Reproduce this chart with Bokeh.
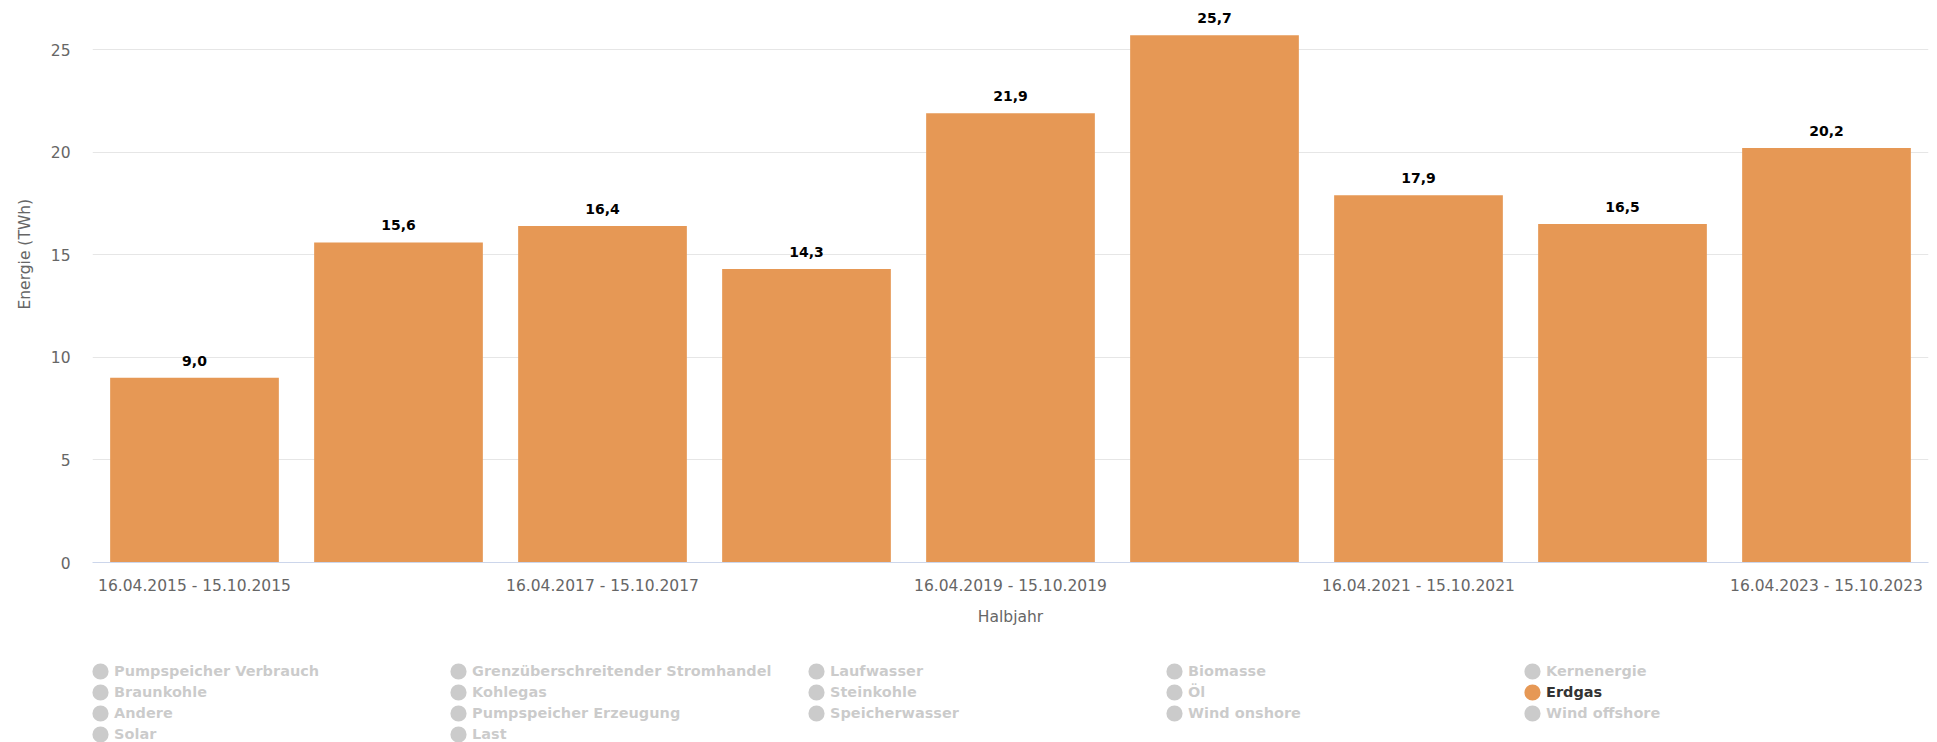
import numpy as np
from bokeh.plotting import figure
from bokeh.layouts import column
from bokeh.models import ColumnDataSource, Legend, LegendItem, FixedTicker, Title
from bokeh.core.properties import value
from bokeh.embed import file_html
from bokeh.resources import INLINE

# ---- data ----
periods = [
    "16.04.2015 - 15.10.2015",
    "16.04.2016 - 15.10.2016",
    "16.04.2017 - 15.10.2017",
    "16.04.2018 - 15.10.2018",
    "16.04.2019 - 15.10.2019",
    "16.04.2020 - 15.10.2020",
    "16.04.2021 - 15.10.2021",
    "16.04.2022 - 15.10.2022",
    "16.04.2023 - 15.10.2023",
]
erdgas_twh = [9.0, 15.6, 16.4, 14.3, 21.9, 25.7, 17.9, 16.5, 20.2]

legend_series = [
    "Pumpspeicher Verbrauch", "Grenzüberschreitender Stromhandel", "Laufwasser", "Biomasse", "Kernenergie",
    "Braunkohle", "Kohlegas", "Steinkohle", "Öl", "Erdgas",
    "Andere", "Pumpspeicher Erzeugung", "Speicherwasser", "Wind onshore", "Wind offshore",
    "Solar", "Last",
]
active_series = "Erdgas"
y_ticks = [0, 5, 10, 15, 20, 25]

bar_color = "#e69855"
FONT = "DejaVu Sans"
TICK_SIZE = "15.5px"

idx = list(range(len(periods)))
labels = [f"{v:.1f}".replace(".", ",") for v in erdgas_twh]
src = ColumnDataSource(dict(x=idx, top=erdgas_twh, label=labels))

p = figure(width=1937, height=650, output_backend="svg", toolbar_location=None,
           x_range=(-0.5, len(periods) - 0.5), y_range=(0, 27),
           min_border_left=89, min_border_right=9, min_border_top=8, min_border_bottom=88)
p.background_fill_color = "white"
p.border_fill_color = "white"
p.outline_line_color = None

p.vbar(x="x", top="top", width=0.827, source=src, fill_color=bar_color, line_color=None)
p.text(x="x", y="top", text="label", source=src, text_align="center", text_baseline="middle",
       y_offset=-17, text_font=value(FONT), text_font_size="14px", text_font_style="bold",
       text_color="#000000")

# axes
xa = p.xaxis[0]
xa.ticker = FixedTicker(ticks=idx[::2])
xa.major_label_overrides = {i: periods[i] for i in idx}
xa.axis_line_color = "#ccd6eb"
xa.major_tick_line_color = None
xa.minor_tick_line_color = None
xa.major_tick_out = 0
xa.major_tick_in = 0
xa.major_label_standoff = 14
xa.major_label_text_font = FONT
xa.major_label_text_font_size = TICK_SIZE
xa.major_label_text_color = "#666666"
xa.axis_label = "Halbjahr"
xa.axis_label_standoff = 10
xa.axis_label_text_font = FONT
xa.axis_label_text_font_size = TICK_SIZE
xa.axis_label_text_font_style = "normal"
xa.axis_label_text_color = "#666666"

ya = p.yaxis[0]
ya.ticker = FixedTicker(ticks=y_ticks)
ya.axis_line_color = None
ya.major_tick_line_color = None
ya.minor_tick_line_color = None
ya.major_tick_out = 0
ya.major_tick_in = 0
ya.major_label_standoff = 22
ya.major_label_text_font = FONT
ya.major_label_text_font_size = TICK_SIZE
ya.major_label_text_color = "#666666"

t = Title(text="Energie (TWh)", align="left", offset=253, standoff=27,
          text_font=FONT, text_font_size=TICK_SIZE, text_font_style="normal", text_color="#666666")
p.add_layout(t, "left")

p.xgrid.visible = False
p.ygrid.grid_line_color = "#e6e6e6"
p.ygrid.grid_line_width = 1

# legend (own strip below the chart; its frame is aligned with the chart's frame)
lg = figure(width=1937, height=92, output_backend="svg", toolbar_location=None,
            x_range=(0, 1), y_range=(0, 1),
            x_axis_location=None, y_axis_location=None,
            min_border_left=0, min_border_right=0, min_border_top=0, min_border_bottom=0)
lg.outline_line_color = None
lg.xgrid.visible = False
lg.ygrid.visible = False

proxy = dict(x=np.array([np.nan]), y=np.array([np.nan]))
items = []
for name in legend_series:
    if name == active_series:
        r = lg.scatter(x=proxy["x"], y=proxy["y"], marker="circle", size=8, fill_color=bar_color,
                       line_color=bar_color, line_width=9)
    else:
        r = lg.scatter(x=proxy["x"], y=proxy["y"], marker="circle", size=8, fill_color="#333333",
                       line_color="#333333", line_width=9, visible=False)
    items.append(LegendItem(label=name, renderers=[r]))

legend = Legend(items=items, location=(-1, -2), orientation="horizontal", ncols=5,
                glyph_width=18, glyph_height=20, label_standoff=5, label_width=335,
                label_height=21, spacing=0, padding=0, margin=0,
                border_line_color=None, background_fill_alpha=0,
                label_text_font=FONT, label_text_font_size="14.5px",
                label_text_font_style="bold", label_text_color="#333333",
                click_policy="hide",
                inactive_fill_color="white", inactive_fill_alpha=0.75)
lg.add_layout(legend)

layout = column(p, lg, spacing=0)
open("out.html", "w").write(file_html(layout, INLINE))
